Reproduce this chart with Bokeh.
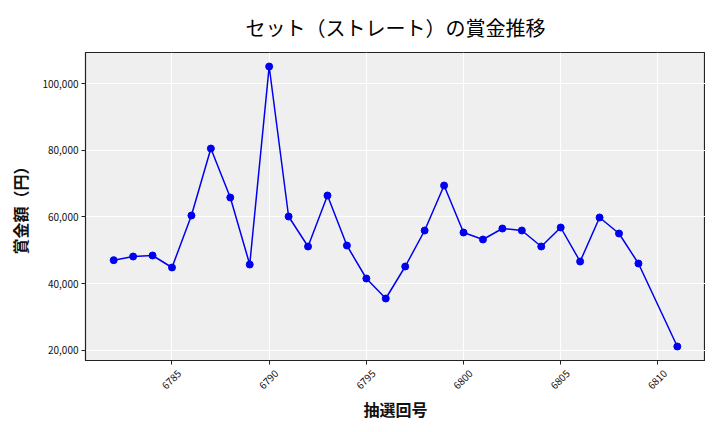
import math
from bokeh.plotting import figure
from bokeh.models import Range1d, FixedTicker, NumeralTickFormatter, ColumnDataSource, LinearAxis
from bokeh.embed import file_html
from bokeh.resources import INLINE

draws = [6782, 6783, 6784, 6785, 6786, 6787, 6788, 6789, 6790, 6791,
         6792, 6793, 6794, 6795, 6796, 6797, 6798, 6799, 6800, 6801,
         6802, 6803, 6804, 6805, 6806, 6807, 6808, 6809, 6811]
prizes = [47000, 48100, 48400, 44800, 60400, 80500, 65800, 45700, 105100, 60100,
          51100, 66400, 51400, 41500, 35500, 45100, 55900, 69400, 55300, 53200,
          56500, 55900, 51100, 56800, 46600, 59800, 55000, 46000, 21100]
x_ticks = [6785, 6790, 6795, 6800, 6805, 6810]
y_ticks = [20000, 40000, 60000, 80000, 100000]
title_text = "セット（ストレート）の賞金推移"
x_label = "抽選回号"
y_label = "賞金額（円）"

src = ColumnDataSource(data=dict(x=draws, y=prizes))

xpad = (max(draws) - min(draws)) * 0.05
ypad = (max(prizes) - min(prizes)) * 0.05
x_start, x_end = min(draws) - xpad, max(draws) + xpad
label_shift = 0.37  # centre the rotated tick labels on their ticks

p = figure(frame_width=620, frame_height=308, output_backend="svg", toolbar_location=None,
           x_range=Range1d(x_start, x_end),
           y_range=Range1d(min(prizes) - ypad, max(prizes) + ypad),
           min_border_left=0, min_border_right=0, min_border_top=0, min_border_bottom=0,
           title=title_text)
p.margin = (0, 0, 0, 5)
p.extra_x_ranges = {"lbl": Range1d(x_start - label_shift, x_end - label_shift)}

jp = "Noto Sans CJK JP"
p.title.text_font = jp
p.title.text_font_size = "20px"
p.title.text_font_style = "normal"
p.title.text_color = "#000000"
p.title.align = "center"
p.title.offset = 0
p.title.standoff = 21

p.background_fill_color = "#efefef"
p.border_fill_color = "white"
p.outline_line_color = "#222222"
p.outline_line_width = 1.2

p.grid.grid_line_color = "white"
p.grid.grid_line_width = 1
p.xgrid.ticker = FixedTicker(ticks=x_ticks)
p.ygrid.ticker = FixedTicker(ticks=y_ticks)

p.xaxis.ticker = FixedTicker(ticks=x_ticks)
p.yaxis.ticker = FixedTicker(ticks=y_ticks)
p.yaxis.formatter = NumeralTickFormatter(format="0,0")
p.xaxis.major_label_overrides = {t: "" for t in x_ticks}

for ax in (p.xaxis, p.yaxis):
    ax.axis_line_color = "#222222"
    ax.major_tick_line_color = "#222222"
    ax.major_tick_out = 4
    ax.major_tick_in = 0
    ax.minor_tick_line_color = None
    ax.major_label_text_font = jp
    ax.major_label_text_font_size = "10px"
    ax.major_label_text_color = "#111111"
    ax.axis_label_text_font = jp
    ax.axis_label_text_font_size = "16px"
    ax.axis_label_text_font_style = "bold"
    ax.axis_label_text_color = "#111111"
    ax.major_label_standoff = 3

p.xaxis.major_label_standoff = 0
p.yaxis.axis_label = y_label
p.yaxis.axis_label_standoff = 7

lab_axis = LinearAxis(x_range_name="lbl", ticker=FixedTicker(ticks=x_ticks),
                      axis_label=x_label, axis_label_standoff=1,
                      major_label_orientation=math.pi / 4, major_label_standoff=7)
lab_axis.axis_line_color = None
lab_axis.major_tick_line_color = None
lab_axis.minor_tick_line_color = None
lab_axis.major_tick_out = 0
lab_axis.major_tick_in = 0
lab_axis.major_label_text_font = jp
lab_axis.major_label_text_font_size = "10px"
lab_axis.major_label_text_color = "#111111"
lab_axis.axis_label_text_font = jp
lab_axis.axis_label_text_font_size = "16px"
lab_axis.axis_label_text_font_style = "bold"
lab_axis.axis_label_text_color = "#111111"
p.add_layout(lab_axis, "below")

p.line("x", "y", source=src, line_color="#0000ee", line_width=1.5)
p.scatter("x", "y", source=src, size=7, fill_color="#0000ee", line_color="#0000ee")

open("out.html", "w").write(file_html(p, INLINE))
